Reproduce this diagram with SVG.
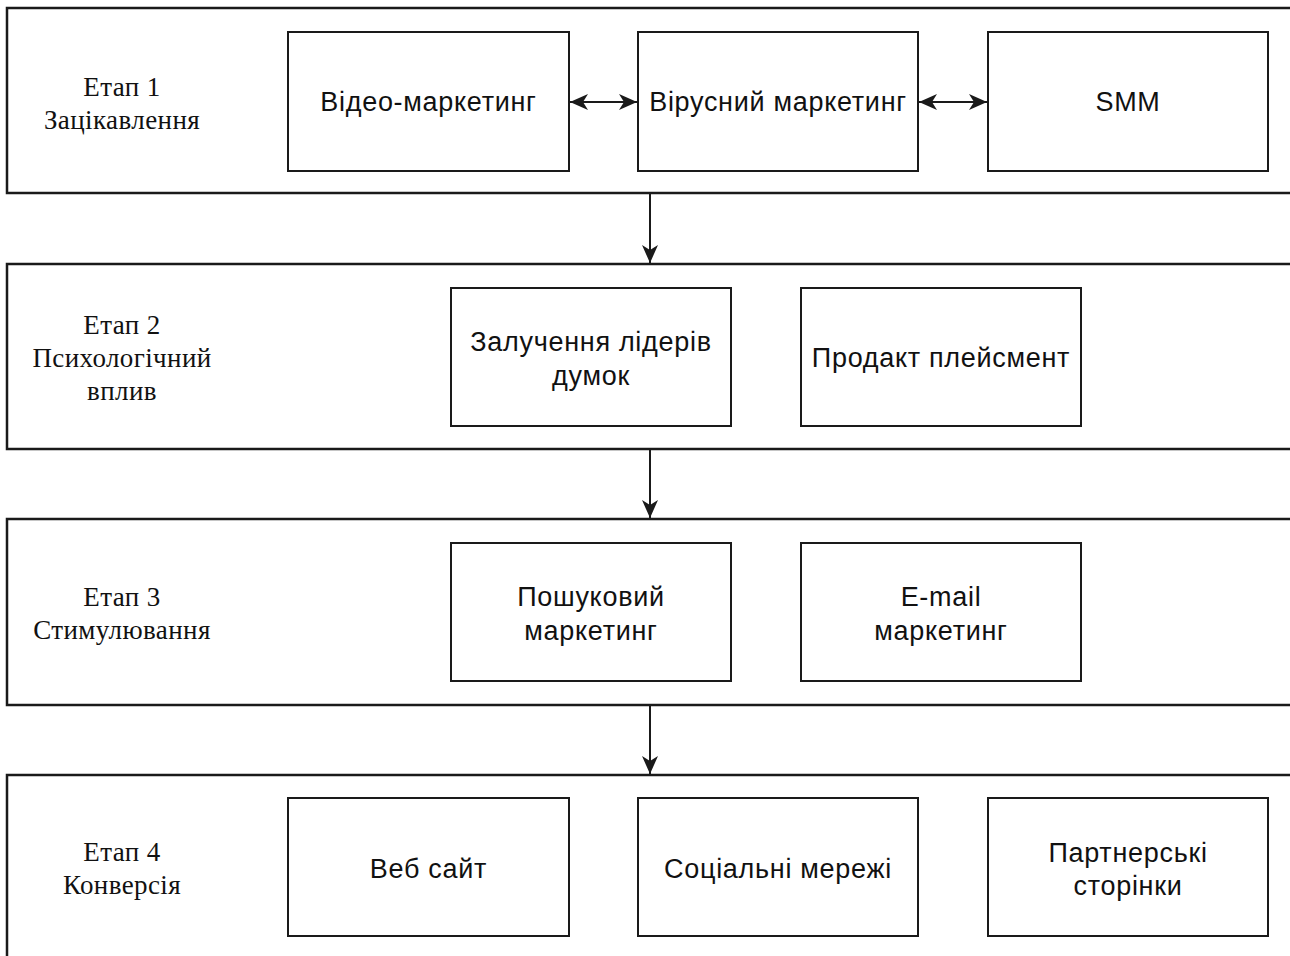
<svg xmlns="http://www.w3.org/2000/svg" width="1290" height="956" viewBox="0 0 1290 956">
<style>
.stage{fill:#fff;stroke:#1a1a1a;stroke-width:2.5}
.box{fill:#fff;stroke:#1a1a1a;stroke-width:2}
.lbl{font-family:"Liberation Serif","Times New Roman",serif;font-size:27px;letter-spacing:0.4px;fill:#111;text-anchor:middle}
.txt{font-family:"Liberation Sans",Arial,sans-serif;font-size:27px;letter-spacing:0.7px;fill:#111;text-anchor:middle}
.con{fill:none;stroke:#1a1a1a;stroke-width:2}
</style>
<defs>
<marker id="ah" markerUnits="userSpaceOnUse" markerWidth="20" markerHeight="18" refX="18" refY="8" orient="auto-start-reverse">
<path d="M0,0 L18,8 L0,16 L5,8 z" fill="#1a1a1a"/>
</marker>
</defs>
<rect width="1290" height="956" fill="#fff"/>

<g id="stage1">
<rect class="stage" x="7" y="8" width="1290" height="185"/>
<text class="lbl" x="122" y="96">Етап 1</text>
<text class="lbl" x="122" y="129">Зацікавлення</text>
</g>
<g id="stage2">
<rect class="stage" x="7" y="264" width="1290" height="185"/>
<text class="lbl" x="122" y="334">Етап 2</text>
<text class="lbl" x="122" y="367">Психологічний</text>
<text class="lbl" x="122" y="400">вплив</text>
</g>
<g id="stage3">
<rect class="stage" x="7" y="519" width="1290" height="186"/>
<text class="lbl" x="122" y="606">Етап 3</text>
<text class="lbl" x="122" y="639">Стимулювання</text>
</g>
<g id="stage4">
<rect class="stage" x="7" y="775" width="1290" height="200"/>
<text class="lbl" x="122" y="861">Етап 4</text>
<text class="lbl" x="122" y="894">Конверсія</text>
</g>

<g id="video">
<rect class="box" x="288" y="32" width="281" height="139"/>
<text class="txt" x="428.5" y="111">Відео-маркетинг</text>
</g>
<g id="viral">
<rect class="box" x="638" y="32" width="280" height="139"/>
<text class="txt" x="778" y="111">Вірусний маркетинг</text>
</g>
<g id="smm">
<rect class="box" x="988" y="32" width="280" height="139"/>
<text class="txt" x="1128" y="111">SMM</text>
</g>

<g id="leaders">
<rect class="box" x="451" y="288" width="280" height="138"/>
<text class="txt" x="591" y="351">Залучення лідерів</text>
<text class="txt" x="591" y="385">думок</text>
</g>
<g id="placement">
<rect class="box" x="801" y="288" width="280" height="138"/>
<text class="txt" x="941" y="367">Продакт плейсмент</text>
</g>

<g id="search">
<rect class="box" x="451" y="543" width="280" height="138"/>
<text class="txt" x="591" y="606">Пошуковий</text>
<text class="txt" x="591" y="640">маркетинг</text>
</g>
<g id="email">
<rect class="box" x="801" y="543" width="280" height="138"/>
<text class="txt" x="941" y="606">E-mail</text>
<text class="txt" x="941" y="640">маркетинг</text>
</g>

<g id="website">
<rect class="box" x="288" y="798" width="281" height="138"/>
<text class="txt" x="428.5" y="878">Веб сайт</text>
</g>
<g id="social">
<rect class="box" x="638" y="798" width="280" height="138"/>
<text class="txt" x="778" y="878">Соціальні мережі</text>
</g>
<g id="partners">
<rect class="box" x="988" y="798" width="280" height="138"/>
<text class="txt" x="1128" y="862">Партнерські</text>
<text class="txt" x="1128" y="895">сторінки</text>
</g>

<g id="connectors">
<line class="con" x1="570" y1="102" x2="637" y2="102" marker-start="url(#ah)" marker-end="url(#ah)"/>
<line class="con" x1="919" y1="102" x2="987" y2="102" marker-start="url(#ah)" marker-end="url(#ah)"/>
<line class="con" x1="650" y1="194" x2="650" y2="263" marker-end="url(#ah)"/>
<line class="con" x1="650" y1="450" x2="650" y2="518" marker-end="url(#ah)"/>
<line class="con" x1="650" y1="706" x2="650" y2="774" marker-end="url(#ah)"/>
</g>
</svg>
